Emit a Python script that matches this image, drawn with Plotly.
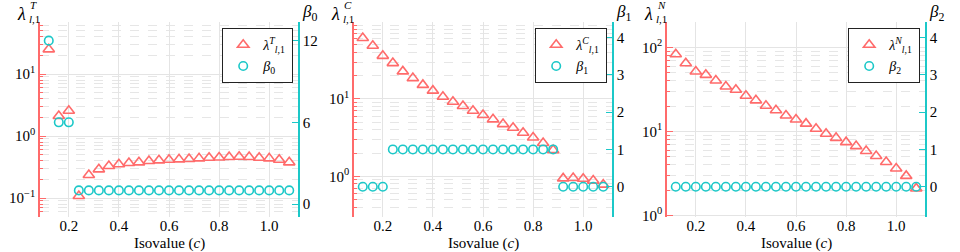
import plotly.graph_objects as go

# ---------------- data ----------------
isovalue = [0.12, 0.16, 0.20, 0.24, 0.28, 0.32, 0.36, 0.40, 0.44, 0.48, 0.52, 0.56, 0.60,
            0.64, 0.68, 0.72, 0.76, 0.80, 0.84, 0.88, 0.92, 0.96, 1.00, 1.04, 1.08]

lambda_T = [25.0, 2.1, 2.56, 0.108, 0.235, 0.29, 0.328, 0.35, 0.367, 0.376, 0.395, 0.405, 0.415,
            0.42, 0.425, 0.436, 0.447, 0.45, 0.458, 0.463, 0.458, 0.447, 0.436, 0.415, 0.376]
beta_0 = [12, 6, 6, 1, 1, 1, 1, 1, 1, 1, 1, 1, 1, 1, 1, 1, 1, 1, 1, 1, 1, 1, 1, 1, 1]

lambda_C = [61.4, 48.7, 36.1, 29.1, 22.7, 18.6, 15.2, 12.8, 10.7, 9.2, 8.1, 7.05, 6.2,
            5.45, 4.73, 4.24, 3.65, 3.18, 2.70, 2.18, 0.94, 0.95, 0.93, 0.88, 0.78]
beta_1 = [0, 0, 0, 1, 1, 1, 1, 1, 1, 1, 1, 1, 1, 1, 1, 1, 1, 1, 1, 1, 0, 0, 0, 0, 0]

lambda_N = [83.1, 65.0, 51.8, 47.3, 40.5, 34.4, 31.4, 26.7, 23.5, 20.3, 17.9, 15.5, 13.9,
            12.4, 10.8, 9.4, 8.4, 7.47, 6.7, 5.85, 5.1, 4.33, 3.62, 2.96, 2.10]
beta_2 = [0] * 25

x_ticks = [0.2, 0.4, 0.6, 0.8, 1.0]
x_ticktext = ["0.2", "0.4", "0.6", "0.8", "1.0"]

# ---------------- style ----------------
W, H = 960, 252
RED = "#ff6b6b"
TEAL = "#1cc8c8"
GRID = "#e4e4e4"
MGRID = "#e6e6e6"
FONT = "Liberation Serif"

def px(x):
    return x / W

def py(y):
    return 1 - y / H

panels = [(40, 298), (354, 612), (667, 925)]
ydom = [py(217), py(22)]

def minor_vals(e0, e1):
    return [m * 10 ** e for e in range(e0, e1 + 1) for m in range(2, 10)]

def pow_label(e):
    return "10<sup>" + ("\u2212" + str(-e) if e < 0 else str(e)) + "</sup>"

specs = [
    dict(lam=lambda_T, beta=beta_0, sup="T", bsub="0",
         lrange=[-1.306, 1.839], ldec=[-1, 0, 1],
         rrange=[-0.955, 13.37], rticks=[0, 6, 12]),
    dict(lam=lambda_C, beta=beta_1, sup="C", bsub="1",
         lrange=[-0.526, 1.995], ldec=[0, 1],
         rrange=[-0.813, 4.42], rticks=[0, 1, 2, 3, 4]),
    dict(lam=lambda_N, beta=beta_2, sup="N", bsub="2",
         lrange=[-0.018, 2.304], ldec=[0, 1, 2],
         rrange=[-0.813, 4.42], rticks=[0, 1, 2, 3, 4]),
]

fig = go.Figure()
layout = dict(
    width=W, height=H,
    margin=dict(l=0, r=0, t=0, b=0),
    paper_bgcolor="white", plot_bgcolor="white",
    font=dict(family=FONT, size=15, color="black"),
    showlegend=True,
)
annotations = []

for i, (sp, (x0, x1)) in enumerate(zip(specs, panels)):
    n = i + 1
    xa = "x" if n == 1 else f"x{n}"
    yl = 2 * n - 1
    yr = 2 * n
    yla = "y" if yl == 1 else f"y{yl}"
    yra = f"y{yr}"
    leg = "legend" if n == 1 else f"legend{n}"

    lam_name = f"<i>λ</i><sup><i>{sp['sup']}</i></sup><sub><i>l</i>,1</sub>"
    beta_name = f"<i>β</i><sub>{sp['bsub']}</sub>"

    fig.add_trace(go.Scatter(
        x=isovalue, y=sp["lam"], mode="markers", name=lam_name,
        xaxis=xa, yaxis=yla, legend=leg,
        marker=dict(symbol="triangle-up-open", size=10, color=RED,
                    line=dict(width=1.6, color=RED)),
    ))
    fig.add_trace(go.Scatter(
        x=isovalue, y=sp["beta"], mode="markers", name=beta_name,
        xaxis=xa, yaxis=yra, legend=leg,
        marker=dict(symbol="circle-open", size=8.5, color=TEAL,
                    line=dict(width=1.6, color=TEAL)),
    ))

    xkey = "xaxis" if n == 1 else f"xaxis{n}"
    ylkey = "yaxis" if yl == 1 else f"yaxis{yl}"
    yrkey = f"yaxis{yr}"

    layout[xkey] = dict(
        domain=[px(x0), px(x1)], range=[0.085, 1.115], anchor=yla,
        showline=False, zeroline=False, ticks="",
        tickmode="array", tickvals=x_ticks, ticktext=x_ticktext,
        showgrid=True, gridcolor=GRID, gridwidth=1.2,
        ticklabelstandoff=-2,
        automargin=False, tickfont=dict(size=15, family=FONT),
    )
    e0, e1 = sp["ldec"][0] - 1, sp["ldec"][-1] + 1
    layout[ylkey] = dict(
        domain=ydom, type="log", range=sp["lrange"], anchor=xa, side="left",
        showline=True, linecolor=RED, linewidth=1.6, zeroline=False,
        ticks="inside", ticklen=6, tickcolor=RED, tickwidth=1.2,
        tickmode="array", tickvals=[10 ** e for e in sp["ldec"]],
        ticktext=[pow_label(e) for e in sp["ldec"]],
        showgrid=True, gridcolor=GRID, gridwidth=1.2,
        minor=dict(tickmode="array", tickvals=minor_vals(e0, e1),
                   ticks="inside", ticklen=3, tickcolor=RED, tickwidth=1,
                   showgrid=True, gridcolor=MGRID, griddash="dash", gridwidth=1),
        automargin=False, tickfont=dict(size=15, family=FONT),
    )
    layout[yrkey] = dict(
        domain=ydom, range=sp["rrange"], anchor=xa, overlaying=yla, side="right",
        showline=True, linecolor=TEAL, linewidth=1.6, zeroline=False,
        ticks="inside", ticklen=6, tickcolor=TEAL, tickwidth=1.2,
        tickmode="array", tickvals=sp["rticks"],
        showgrid=False, automargin=False, tickfont=dict(size=15, family=FONT),
    )
    layout[leg] = dict(
        x=px(x1 - 5), y=py(28), xanchor="right", yanchor="top",
        bgcolor="white", bordercolor="#222222", borderwidth=1.2,
        font=dict(size=14, family=FONT), itemwidth=30, tracegroupgap=0,
    )

    # axis titles
    annotations += [
        dict(text="<i>λ</i>", x=px(x0 - 12), y=py(14), xref="paper", yref="paper",
             xanchor="right", yanchor="middle", showarrow=False, font=dict(size=18, family=FONT)),
        dict(text=f"<i>{sp['sup']}</i>", x=px(x0 - 12), y=py(5), xref="paper", yref="paper",
             xanchor="left", yanchor="middle", showarrow=False, font=dict(size=11, family=FONT)),
        dict(text="<i>l</i>,1", x=px(x0 - 13), y=py(19), xref="paper", yref="paper",
             xanchor="left", yanchor="middle", showarrow=False, font=dict(size=11, family=FONT)),
        dict(text=f"<i>β</i><sub>{sp['bsub']}</sub>", x=px(x1 + 2), y=py(13),
             xref="paper", yref="paper", xanchor="left", yanchor="middle",
             showarrow=False, font=dict(size=17, family=FONT)),
        dict(text="Isovalue (<i>c</i>)", x=px((x0 + x1) / 2), y=py(243),
             xref="paper", yref="paper", xanchor="center", yanchor="middle",
             showarrow=False, font=dict(size=15, family=FONT)),
    ]

layout["annotations"] = annotations
fig.update_layout(**layout)
fig.write_html(
    "out.html",
    config={"displayModeBar": False},
    post_script="document.body.style.margin='0';document.body.style.overflow='hidden';",
)
